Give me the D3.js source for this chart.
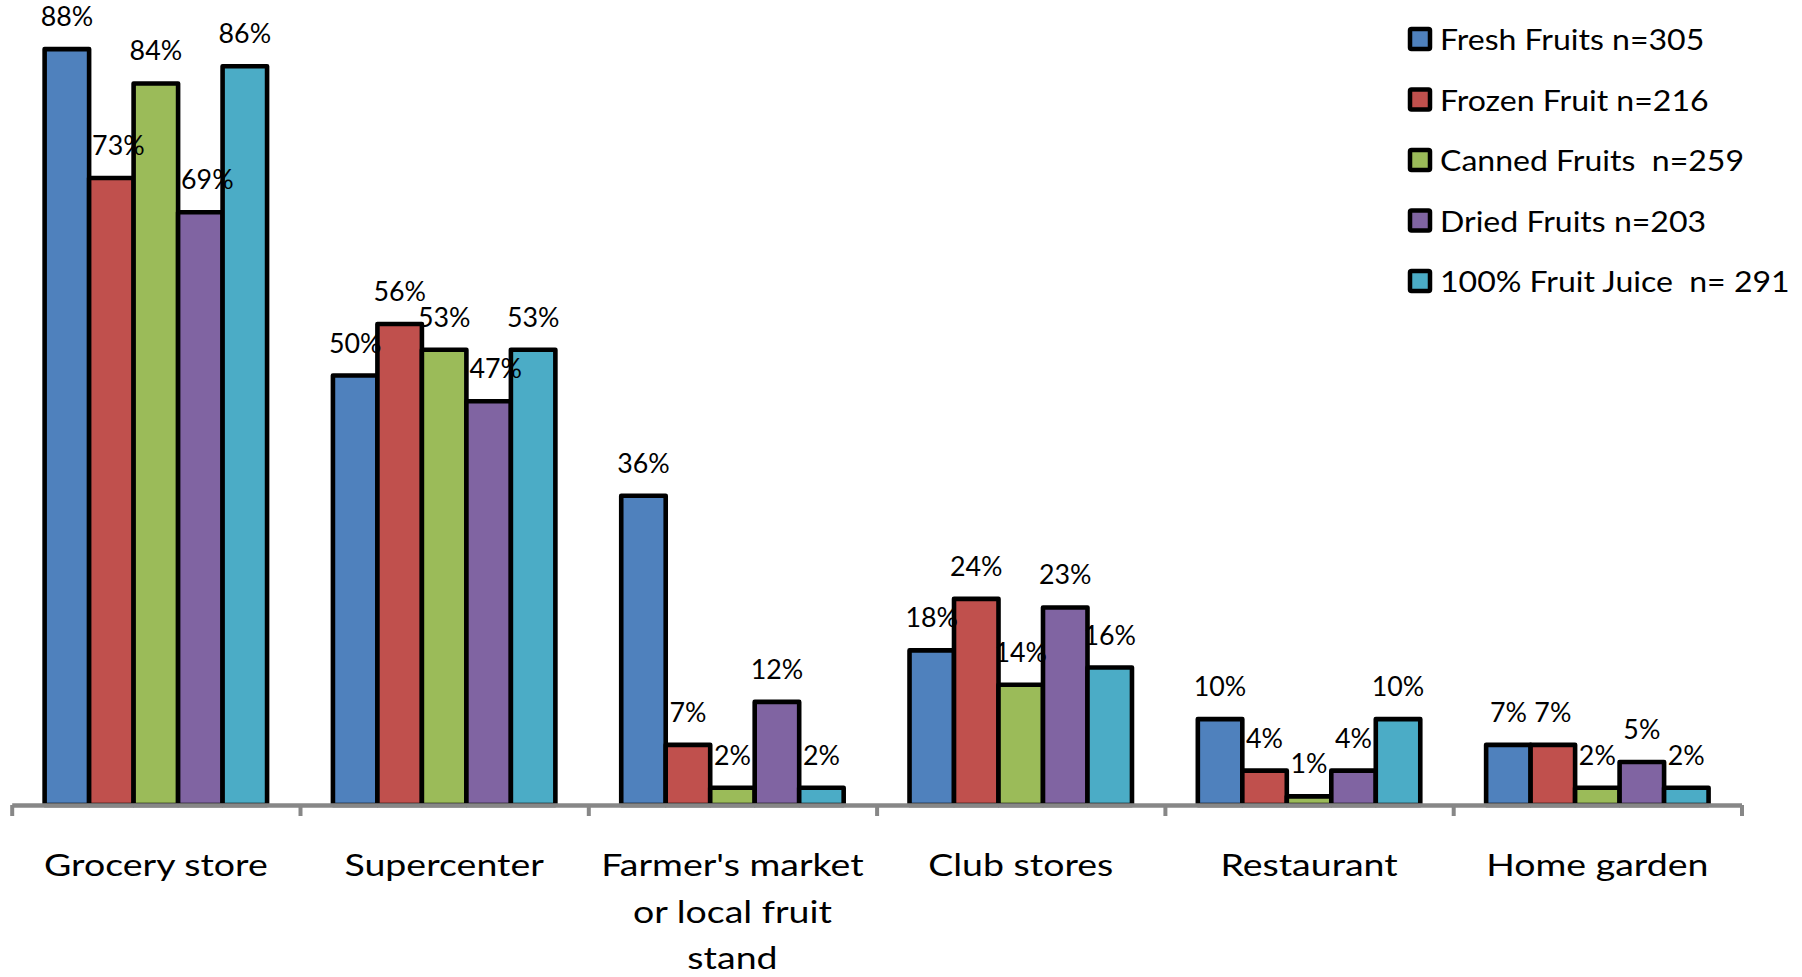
<!DOCTYPE html>
<html>
<head>
<meta charset="utf-8">
<script src="https://cdn.jsdelivr.net/npm/d3@7"></script>
<style>
  html, body { margin: 0; padding: 0; background: #ffffff; }
  svg { display: block; }
  text { font-family: "Lato", "Liberation Sans", sans-serif; font-weight: 400; fill: #000; }
</style>
</head>
<body>
<svg id="chart" width="1802" height="977"></svg>
<script>
// Where people buy each fruit form (% of respondents)
const categories = ["Grocery store", "Supercenter", "Farmer's market or local fruit stand",
                    "Club stores", "Restaurant", "Home garden"];
const categoryLines = [["Grocery store"], ["Supercenter"], ["Farmer's market", "or local fruit", "stand"],
                       ["Club stores"], ["Restaurant"], ["Home garden"]];
const seriesNames = ["Fresh Fruits n=305", "Frozen Fruit n=216", "Canned Fruits  n=259",
                     "Dried Fruits n=203", "100% Fruit Juice  n= 291"];
const freshFruits  = [88, 50, 36, 18, 10, 7];
const frozenFruit  = [73, 56, 7, 24, 4, 7];
const cannedFruits = [84, 53, 2, 14, 1, 2];
const driedFruits  = [69, 47, 12, 23, 4, 5];
const fruitJuice   = [86, 53, 2, 16, 10, 2];
const seriesValues = [freshFruits, frozenFruit, cannedFruits, driedFruits, fruitJuice];
const colors = ["#4F81BD", "#C0504D", "#9BBB59", "#8064A2", "#4BACC6"];

// a few labels are shifted right so they clear the taller neighbouring bar
const labelShift = {
  "Grocery store|Frozen Fruit n=216": 7,
  "Grocery store|Dried Fruits n=203": 7,
  "Supercenter|Dried Fruits n=203": 7
};

const svg = d3.select("#chart");

const plotLeft = 11.7, plotRight = 1741.5, baseY = 805, topY = 31.9;

const x0 = d3.scaleBand().domain(categories).range([plotLeft, plotRight]).paddingInner(0).paddingOuter(0);
const x1 = d3.scaleBand().domain(seriesNames).range([0, x0.bandwidth()]).paddingInner(0).paddingOuter(0.74);
const y = d3.scaleLinear().domain([0, 90]).range([baseY, topY]);
const color = d3.scaleOrdinal().domain(seriesNames).range(colors);

// one record per bar
const bars = [];
categories.forEach((c, ci) => {
  seriesNames.forEach((s, si) => {
    bars.push({ category: c, series: s, value: seriesValues[si][ci] });
  });
});

// bars
svg.append("g").selectAll("rect")
  .data(bars)
  .join("rect")
  .attr("x", d => x0(d.category) + x1(d.series))
  .attr("y", d => y(d.value))
  .attr("width", x1.bandwidth())
  .attr("height", d => y(0) - y(d.value))
  .attr("fill", d => color(d.series))
  .attr("stroke", "#000")
  .attr("stroke-width", 4.6)
  .attr("stroke-linejoin", "round");

// category axis with ticks on the category boundaries
const xb = d3.scaleLinear().domain([0, categories.length]).range([plotLeft, plotRight]);
const axis = svg.append("g")
  .attr("transform", `translate(0,${baseY})`)
  .call(d3.axisBottom(xb).ticks(categories.length).tickSizeInner(11).tickSizeOuter(0).tickFormat(""));
axis.select(".domain").attr("stroke", "#878787").attr("stroke-width", 4.5);
axis.selectAll(".tick line").attr("stroke", "#878787").attr("stroke-width", 4);

// value labels
const valueStretch = 1.03;
svg.append("g").selectAll("text")
  .data(bars)
  .join("text")
  .attr("transform", d => {
    const cx = x0(d.category) + x1(d.series) + x1.bandwidth() / 2 + (labelShift[d.category + "|" + d.series] || 0);
    return `translate(${cx},${y(d.value) - 23}) scale(${valueStretch},1)`;
  })
  .attr("text-anchor", "middle")
  .style("font-size", "26px")
  .text(d => d.value + "%");

// category labels
const catStretch = 1.21;
const catG = svg.append("g").selectAll("g")
  .data(categories)
  .join("g")
  .attr("transform", d => `translate(${x0(d) + x0.bandwidth() / 2},0)`);
catG.each(function (d, i) {
  d3.select(this).selectAll("text")
    .data(categoryLines[i])
    .join("text")
    .attr("transform", (t, li) => `translate(0,${876 + li * 46.5}) scale(${catStretch},1)`)
    .attr("text-anchor", "middle")
    .style("font-size", "31px")
    .text(t => t);
});

// legend
const legendStretch = 1.105;
const legend = svg.append("g").selectAll("g")
  .data(seriesNames)
  .join("g")
  .attr("transform", (d, i) => `translate(1410,${39 + i * 60.5})`);
legend.append("rect")
  .attr("x", 0).attr("y", -10)
  .attr("width", 20).attr("height", 20)
  .attr("fill", d => color(d))
  .attr("stroke", "#000")
  .attr("stroke-width", 4.5)
  .attr("rx", 1.5);
legend.append("text")
  .attr("transform", `translate(30,11) scale(${legendStretch},1)`)
  .style("font-size", "29px")
  .style("white-space", "pre")
  .text(d => d);
</script>
</body>
</html>
